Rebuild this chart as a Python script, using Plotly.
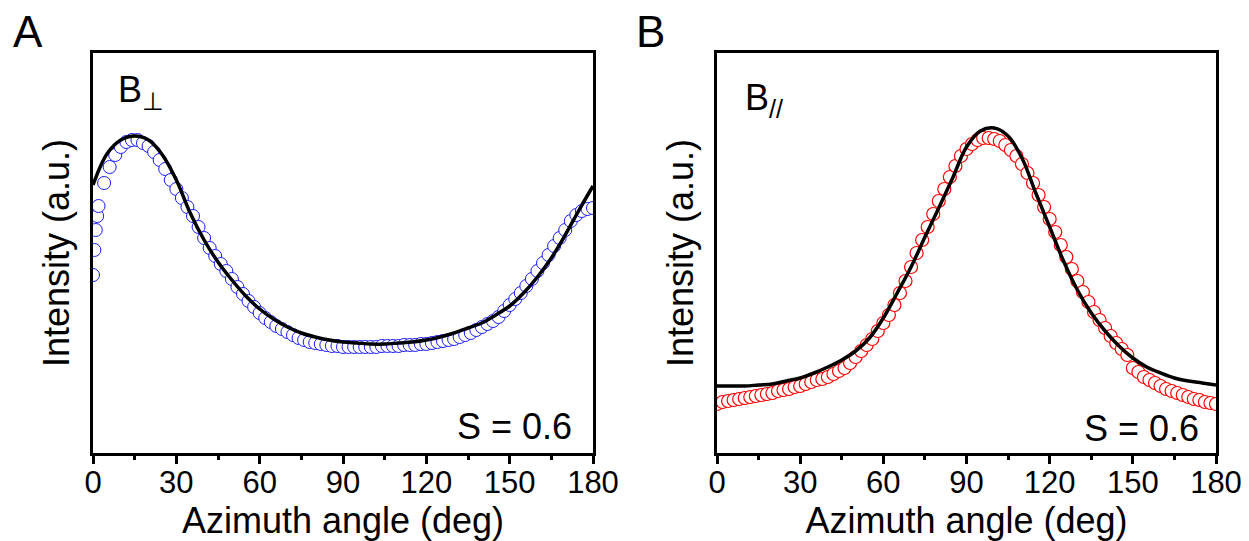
import plotly.graph_objects as go

# ---------------- data ----------------
# Panel A (B perpendicular): measured intensity (a.u.) vs azimuth angle (deg)
angle_a = [0, 0.5, 1, 1.5, 2, 4, 6, 8, 10, 12, 14, 16, 18, 20, 22, 24, 26, 28, 30, 32, 34, 36, 38, 40,
           42, 44, 46, 48, 50, 52, 54, 56, 58, 60, 62, 64, 66, 68, 70, 72, 74, 76, 78, 80, 82, 84, 86,
           88, 90, 92, 94, 96, 98, 100, 102, 104, 106, 108, 110, 112, 114, 116, 118, 120, 122, 124,
           126, 128, 130, 132, 134, 136, 138, 140, 142, 144, 146, 148, 150, 152, 154, 156, 158, 160,
           162, 164, 166, 168, 170, 172, 174, 176, 178, 180]
intensity_a = [178, 203, 223, 237, 247, 270, 286, 298, 306, 311, 313, 313, 310, 307, 301, 293, 284, 273,
               264, 255, 246, 237, 226, 215, 205, 197, 189, 182, 174, 166, 159, 152, 146, 140, 135, 131,
               127, 124, 121, 118, 115, 113, 111, 110, 109, 108, 107, 107, 106, 106, 106, 106, 106, 106,
               106, 107, 107, 107, 107, 108, 108, 108, 109, 109, 110, 111, 112, 113, 114, 116, 118, 120,
               123, 126, 129, 132, 136, 142, 148, 154, 160, 167, 174, 182, 190, 198, 207, 215, 223, 232,
               238, 242, 244, 245]

fit_angle = [0, 5, 10, 15, 20, 25, 30, 35, 40, 45, 50, 55, 60, 65, 70, 75, 80, 85, 90, 95, 100, 105,
             110, 115, 120, 125, 130, 135, 140, 145, 150, 155, 160, 165, 170, 175, 180]
fit_a = [268, 299, 313, 317, 313, 298, 273, 240, 213, 191, 173, 157, 144, 134, 126, 120, 116, 113, 111,
         110, 109, 109, 110, 111, 113, 116, 120, 125, 130, 138, 147, 160, 176, 195, 218, 243, 267]

# Panel B (B parallel)
angle_b = [0, 2, 4, 6, 8, 10, 12, 14, 16, 18, 20, 22, 24, 26, 28, 30, 32, 34, 36, 38, 40, 42, 44, 46,
           48, 50, 52, 54, 56, 58, 60, 62, 64, 66, 68, 70, 72, 74, 76, 78, 80, 82, 84, 86, 88, 90, 92,
           94, 96, 98, 100, 102, 104, 106, 108, 110, 112, 114, 116, 118, 120, 122, 124, 126, 128, 130,
           132, 134, 136, 138, 140, 142, 144, 146, 148, 150, 152, 154, 156, 158, 160, 162, 164, 166,
           168, 170, 172, 174, 176, 178, 180]
intensity_b = [49, 51, 52, 53, 54, 55, 56, 57, 58, 59, 60, 62, 63, 64, 66, 67, 69, 71, 73, 74, 76, 79,
               82, 85, 90, 96, 102, 108, 114, 122, 130, 138, 148, 160, 172, 186, 200, 213, 226, 239, 252,
               264, 276, 287, 297, 304, 309, 313, 315, 315, 314, 312, 308, 303, 297, 289, 280, 270, 258,
               246, 234, 221, 208, 196, 184, 172, 161, 151, 141, 133, 125, 117, 110, 104, 98, 85, 81, 76,
               73, 70, 67, 64, 62, 60, 58, 56, 54, 53, 51, 50, 49]
fit_b = [67, 67, 67, 68, 69, 72, 75, 80, 86, 93, 102, 115, 135, 160, 186, 216, 245, 275, 306, 322, 325,
         317, 295, 260, 226, 192, 163, 140, 122, 107, 95, 86, 80, 75, 72, 70, 68]

x_ticks = [0, 30, 60, 90, 120, 150, 180]
x_minor_ticks = [15, 45, 75, 105, 135, 165]
x_title = "Azimuth angle (deg)"
y_title = "Intensity (a.u.)"

# ---------------- figure ----------------
W, H = 1249, 541
FONT = "Arial, Liberation Sans, sans-serif"

fig = go.Figure()

marker_a = dict(symbol="circle", size=13, color="white", line=dict(color="#1a1aff", width=1))
marker_b = dict(symbol="circle", size=13, color="white", line=dict(color="#ff0000", width=1.2))

fig.add_trace(go.Scatter(x=angle_a, y=intensity_a, mode="markers", marker=marker_a,
                         xaxis="x", yaxis="y", showlegend=False))
fig.add_trace(go.Scatter(x=fit_angle, y=fit_a, mode="lines", line=dict(color="black", width=3.5, shape="spline"),
                         xaxis="x", yaxis="y", showlegend=False))
fig.add_trace(go.Scatter(x=angle_b, y=intensity_b, mode="markers", marker=marker_b,
                         xaxis="x2", yaxis="y2", showlegend=False))
fig.add_trace(go.Scatter(x=fit_angle, y=fit_b, mode="lines", line=dict(color="black", width=3.5, shape="spline"),
                         xaxis="x2", yaxis="y2", showlegend=False))

y_dom = [(H - 453) / H, (H - 53) / H]

def xaxis_cfg(domain, anchor):
    return dict(domain=domain, anchor=anchor, range=[0, 180], tickvals=x_ticks,
                ticks="outside", ticklen=8, tickwidth=2.5, tickcolor="black",
                ticklabelstandoff=-8,
                minor=dict(tickvals=x_minor_ticks, ticks="outside", ticklen=4,
                           tickwidth=2.5, tickcolor="black"),
                showline=True, linewidth=2.5, linecolor="black", mirror=True,
                showgrid=False, zeroline=False,
                tickfont=dict(family=FONT, size=31, color="black"),
                title=dict(text=x_title, font=dict(family=FONT, size=36, color="black"), standoff=4),
                automargin=False)

def yaxis_cfg(anchor):
    return dict(domain=y_dom, anchor=anchor, range=[0, 400], showticklabels=False, ticks="",
                showline=True, linewidth=2.5, linecolor="black", mirror=True,
                showgrid=False, zeroline=False,
                title=dict(text=y_title, font=dict(family=FONT, size=36, color="black"), standoff=10),
                automargin=False)

fig.update_layout(
    width=W, height=H,
    margin=dict(l=0, r=0, t=0, b=0, autoexpand=False),
    paper_bgcolor="white", plot_bgcolor="white",
    xaxis=xaxis_cfg([93 / W, 593 / W], "y"),
    yaxis=yaxis_cfg("x"),
    xaxis2=xaxis_cfg([717 / W, 1216 / W], "y2"),
    yaxis2=yaxis_cfg("x2"),
)

def ann(text, px, py, size, xanchor="center", yanchor="middle"):
    fig.add_annotation(text=text, x=px / W, y=1 - py / H, xref="paper", yref="paper",
                       xanchor=xanchor, yanchor=yanchor, showarrow=False,
                       font=dict(family=FONT, size=size, color="black"))

ann("A", 28, 32, 44)
ann("B", 650, 32, 44)
ann("B<sub>⊥</sub>", 116, 92, 36, xanchor="left")
ann("B<sub>//</sub>", 743, 100, 36, xanchor="left")
ann("S = 0.6", 574, 426, 36, xanchor="right")
ann("S = 0.6", 1201, 428, 36, xanchor="right")

fig.write_html("out.html")
